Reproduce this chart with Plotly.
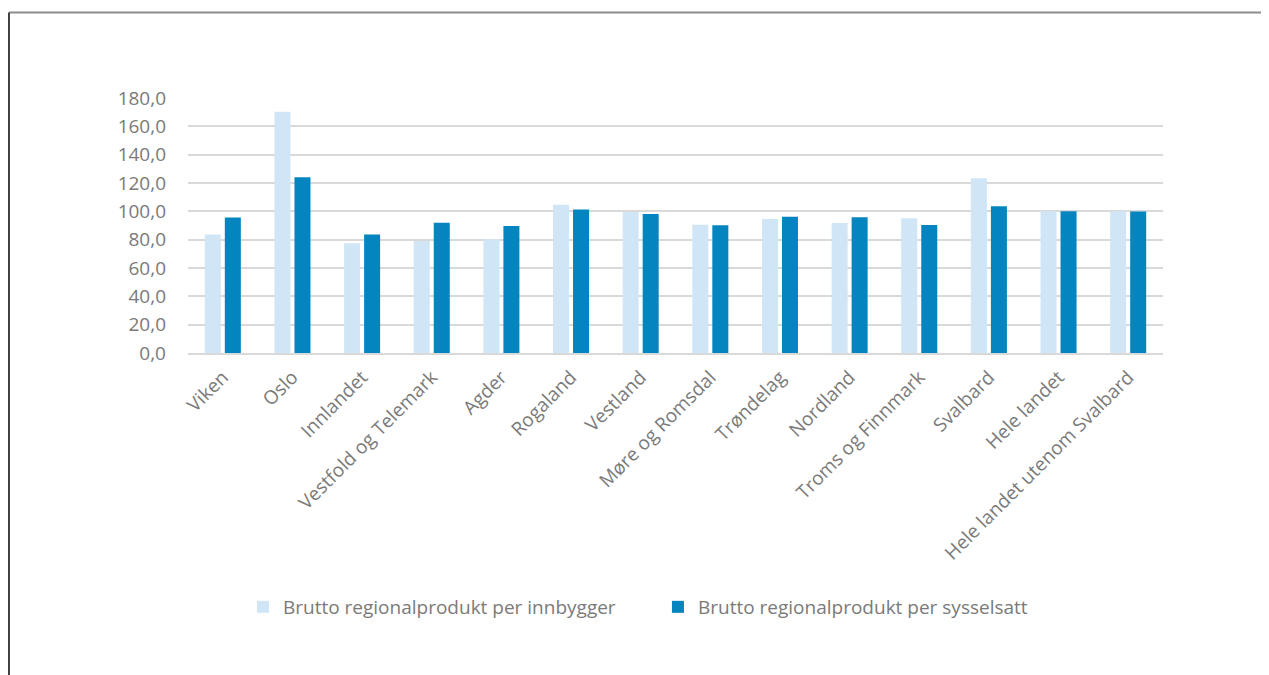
import plotly.graph_objects as go

categories = ["Viken", "Oslo", "Innlandet", "Vestfold og Telemark", "Agder", "Rogaland",
              "Vestland", "Møre og Romsdal", "Trøndelag", "Nordland", "Troms og Finnmark",
              "Svalbard", "Hele landet", "Hele landet utenom Svalbard"]
per_innbygger = [83.7, 170.3, 77.4, 79.0, 80.3, 104.6, 99.5, 90.5, 94.6, 91.7, 95.2, 123.4, 100.0, 100.0]
per_sysselsatt = [95.6, 124.0, 83.6, 91.9, 89.7, 101.3, 98.2, 90.2, 96.1, 95.9, 90.4, 103.6, 100.0, 99.9]
series_names = ["Brutto regionalprodukt per innbygger", "Brutto regionalprodukt per sysselsatt"]
y_ticks = [0, 20, 40, 60, 80, 100, 120, 140, 160, 180]
y_tick_labels = ["0,0", "20,0", "40,0", "60,0", "80,0", "100,0", "120,0", "140,0", "160,0", "180,0"]

FONT = "Open Sans"
TXT = "#7a7a7a"

fig = go.Figure()
fig.add_trace(go.Bar(x=categories, y=per_innbygger, name=series_names[0],
                     marker=dict(color="#d0e6f6", line=dict(width=0))))
fig.add_trace(go.Bar(x=categories, y=per_sysselsatt, name=series_names[1],
                     marker=dict(color="#0585c0", line=dict(width=0))))

fig.update_layout(
    width=1261, height=667,
    margin=dict(l=180, r=106, t=90, b=322),
    paper_bgcolor="white", plot_bgcolor="white",
    barmode="group", bargap=0.425, bargroupgap=0.2,
    font=dict(family=FONT, size=19, color=TXT),
    showlegend=True,
    legend=dict(orientation="h", x=0.482, xanchor="center", y=-0.996, yanchor="middle",
                font=dict(family=FONT, size=19, color=TXT),
                entrywidth=370, entrywidthmode="pixels", traceorder="normal"),
    xaxis=dict(tickangle=-45, showgrid=False, showline=True, linecolor="#d9d9d9", linewidth=1.5,
               tickfont=dict(family=FONT, size=19, color=TXT), ticks="", ticklabelstandoff=4),
    yaxis=dict(range=[0, 180], tickvals=y_ticks, ticktext=y_tick_labels,
               showgrid=True, gridcolor="#d9d9d9", gridwidth=1.5,
               zeroline=False, showline=False, ticks="", ticklabelstandoff=21,
               tickfont=dict(family=FONT, size=19, color=TXT)),
    shapes=[
        dict(type="line", xref="paper", yref="paper", x0=-0.1836, x1=1.2, y0=1.335, y1=1.335,
             line=dict(color="#8c8c8c", width=2)),
        dict(type="line", xref="paper", yref="paper", x0=-0.1836, x1=-0.1836, y0=-1.3, y1=1.335,
             line=dict(color="#404040", width=2)),
    ],
)

fig.write_html("out.html")
